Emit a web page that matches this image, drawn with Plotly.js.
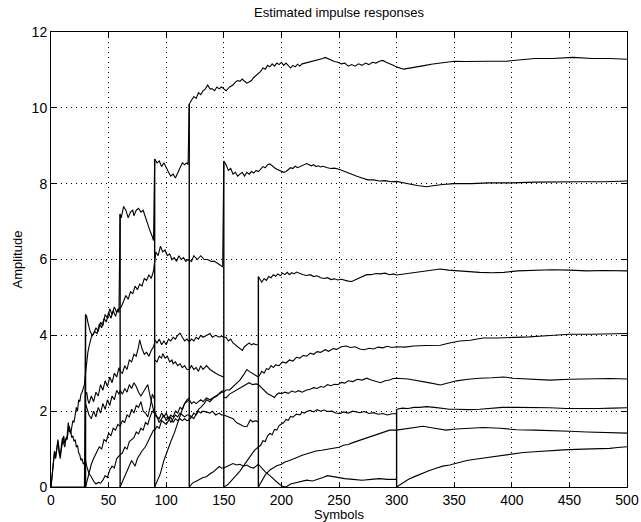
<!DOCTYPE html>
<html>
<head>
<meta charset="utf-8">
<script src="https://cdn.plot.ly/plotly-3.0.1.min.js"></script>
<style>html,body{margin:0;padding:0;background:#fff;}#chart{width:641px;height:522px;}</style>
</head>
<body>
<div id="chart"></div>
<script>
// ---- data: x = symbol index, y = amplitude ----
const xTicks = [0,50,100,150,200,250,300,350,400,450,500];
const yTicks = [0,2,4,6,8,10,12];
const jumpAt  = [30, 60, 90, 120, 150, 180, 300];
const jumpTop = [4.55, 7.2, 8.65, 10.1, 8.6, 5.55, 2.05];

const tapA = [[0,0],[29,0],[30,4.55],[31,4.5],[32,4.35],[34,4.1],[36,4.0],[38,4.1],[40,4.05],[42,4.3],[44,4.2],[46,4.45],[48,4.35],[50,4.6],[52,4.45],[54,4.65],[56,4.5],[58,4.7],[59,4.6],
 [60,7.2],[61,7.1],[63,7.4],[65,7.3],[67,7.1],[69,7.25],[71,7.3],[72,7.15],[74,7.3],[76,7.35],[78,7.25],[80,7.3],[82,7.1],[84,6.9],[86,6.75],[88,6.6],[89,6.5],
 [90,8.65],[92,8.55],[94,8.6],[96,8.45],[98,8.55],[100,8.4],[102,8.3],[104,8.2],[106,8.25],[108,8.15],[110,8.3],[112,8.4],[114,8.55],[116,8.5],[118,8.55],[119,8.5],
 [120,10.1],[122,10.2],[124,10.3],[126,10.25],[128,10.4],[130,10.35],[132,10.45],[134,10.5],[136,10.6],[138,10.5],[140,10.5],[142,10.45],[144,10.55],[146,10.5],[148,10.55],[150,10.5],[152,10.45],[155,10.55],[158,10.6],[160,10.68],[162,10.72],[164,10.7],[166,10.76],[168,10.7],[170,10.65],[172,10.68],[174,10.72],[176,10.8],[178,10.85],[180,10.9],[182,10.96],[184,11.05],[186,11.02],[188,11.12],[190,11.08],[192,11.16],[194,11.1],[196,11.18],[198,11.14],[200,11.2],[202,11.12],[204,11.18],[206,11.1],[208,11.05],[210,11.12],[212,11.08],[214,11.15],[216,11.1],[218,11.16],[221,11.18],[224,11.2],[227,11.24],[230,11.25],[233,11.28],[236,11.3],[238,11.33],[240,11.3],[243,11.26],[246,11.22],[249,11.2],[252,11.16],[255,11.18],[258,11.1],[261,11.14],[264,11.1],[267,11.16],[270,11.12],[273,11.18],[276,11.14],[279,11.2],[282,11.18],[285,11.23],[288,11.25],[291,11.2],[294,11.15],[297,11.12],[300,11.08],[303,11.05],[306,11.02],[310,11.04],[315,11.06],[320,11.1],[325,11.12],[330,11.15],[335,11.17],[340,11.2],[350,11.23],[360,11.22],[370,11.23],[380,11.23],[395,11.23],[410,11.28],[420,11.3],[435,11.3],[453,11.33],[470,11.3],[485,11.3],[500,11.28]];

const tapB = [[0,0],[1,0.3],[2,0.6],[3,0.95],[4,0.8],[5,1.05],[6,1.2],[7,0.9],[8,0.8],[9,1.1],[10,1.3],[11,1.15],[12,1.05],[13,1.3],[14,1.25],[15,1.5],[16,1.6],[17,1.4],[18,1.55],[19,1.75],[20,1.7],[21,1.9],[22,2.1],[23,2.0],[24,2.3],[25,2.25],[26,2.45],[27,2.5],[28,2.65],[29,2.7],
 [30,3.0],[31,3.3],[32,3.55],[33,3.7],[35,3.95],[37,4.05],[39,4.2],[41,4.1],[43,4.35],[45,4.25],[47,4.55],[49,4.45],[51,4.7],[53,4.55],[55,4.75],[57,4.6],[59,4.7],
 [61,4.75],[63,4.9],[65,5.05],[67,4.95],[69,5.15],[71,5.1],[73,5.3],[75,5.2],[77,5.35],[79,5.3],[81,5.5],[83,5.45],[85,5.6],[87,5.5],[89,5.7],
 [91,6.2],[93,6.1],[95,6.35],[97,6.2],[99,6.25],[101,6.1],[103,6.15],[105,6.0],[107,6.05],[109,5.95],[111,6.1],[113,6.0],[115,6.05],[117,5.95],[119,6.0],
 [122,5.95],[124,6.1],[127,6.0],[130,6.1],[133,6.0],[136,6.0],[139,5.95],[142,5.95],[145,5.9],[147,5.85],[149,5.8],
 [150,8.6],[152,8.5],[154,8.35],[156,8.4],[158,8.25],[160,8.3],[162,8.2],[164,8.25],[166,8.3],[168,8.2],[170,8.3],[172,8.25],[174,8.32],[176,8.28],[178,8.35],[180,8.32],[182,8.4],[184,8.45],[186,8.42],[188,8.5],[190,8.52],[192,8.46],[194,8.42],[196,8.38],[198,8.36],[200,8.33],[202,8.3],[204,8.32],[206,8.36],[208,8.42],[210,8.4],[212,8.46],[214,8.42],[216,8.45],[218,8.48],[220,8.5],[222,8.53],[224,8.5],[226,8.47],[228,8.5],[230,8.45],[232,8.47],[234,8.44],[236,8.46],[238,8.43],[240,8.42],[243,8.4],[246,8.41],[250,8.38],[253,8.34],[256,8.3],[259,8.27],[262,8.24],[265,8.2],[268,8.17],[271,8.14],[275,8.1],[280,8.1],[285,8.07],[290,8.08],[295,8.05],[300,8.06],[305,8.02],[310,8.0],[318,7.95],[326,7.92],[333,7.95],[340,7.98],[350,8.0],[365,8.0],[380,8.02],[400,8.02],[420,8.04],[440,8.05],[460,8.05],[480,8.05],[500,8.07]];

// segments between restarts
const seg0b = [[0,0],[1,0.35],[2,0.7],[3,0.9],[4,0.75],[5,1.1],[6,1.25],[7,1.0],[8,0.75],[9,1.0],[10,1.2],[11,1.35],[12,1.15],[13,1.25],[14,1.35],[15,1.7],[16,1.45],[17,1.5],[18,1.3],[19,1.35],[20,1.2],[21,1.25],[22,1.05],[23,1.1],[24,0.9],[25,0.85],[26,0.7],[27,0.75],[28,0.6],[29,0.65],[30,0.7]];
const seg1c = [[30,2.45],[31,2.5],[32,2.3],[33,2.2],[35,2.4],[37,2.25],[39,2.5],[41,2.4],[43,2.7],[45,2.55],[47,2.8],[49,2.65],[51,2.9],[53,2.75],[55,3.0],[57,2.9],[59,3.15],[60,3.05]];
const seg1d = [[30,2.2],[31,2.1],[33,1.9],[35,1.8],[37,2.0],[39,1.85],[41,2.1],[43,1.95],[45,2.2],[47,2.05],[49,2.3],[51,2.15],[53,2.4],[55,2.3],[57,2.55],[59,2.45],[60,2.55]];
const seg1e = [[30,0],[32,0.25],[34,0.5],[35,0.6],[37,0.75],[39,0.9],[41,1.0],[42,1.06],[44,1.0],[46,1.25],[48,1.2],[50,1.42],[52,1.35],[54,1.55],[56,1.5],[58,1.65],[60,1.6]];
const seg1f = [[30,0.7],[31,0.55],[33,0.35],[35,0.27],[37,0.15],[39,0.08],[41,0.12],[43,0.1],[45,0.18],[47,0.3],[49,0.25],[51,0.45],[53,0.55],[55,0.5],[57,0.75],[59,0.8],[60,0.85]];
const seg2c = [[60,3.05],[62,3.0],[64,3.2],[66,3.1],[68,3.35],[70,3.3],[72,3.5],[74,3.45],[76,3.7],[77,3.88],[79,3.65],[81,3.5],[83,3.55],[85,3.45],[87,3.6],[89,3.7],[90,3.8]];
const seg2d = [[60,2.55],[62,2.45],[64,2.6],[66,2.5],[68,2.7],[70,2.6],[72,2.75],[74,2.65],[76,2.5],[78,2.4],[80,2.5],[82,2.6],[84,2.7],[86,2.4],[88,2.1],[90,1.9]];
const seg2e = [[60,1.6],[62,1.75],[64,1.7],[66,1.9],[68,1.85],[70,2.05],[72,1.95],[74,2.15],[76,2.1],[78,2.25],[80,2.0],[82,1.95],[84,1.85],[86,2.1],[88,2.45],[90,2.3]];
const seg2f = [[60,0.85],[62,0.9],[64,1.05],[66,1.0],[68,1.2],[70,1.24],[72,1.3],[74,1.45],[76,1.4],[78,1.55],[80,1.5],[82,1.7],[84,1.65],[86,1.85],[88,2.0],[90,1.95]];
const seg2g = [[60,0],[62,0.15],[64,0.3],[66,0.45],[68,0.55],[70,0.7],[72,0.6],[73,0.55],[75,0.75],[77,0.85],[79,0.95],[82,1.06],[84,1.2],[86,1.3],[87,1.4],[89,1.5],[90,1.5]];
const seg3c = [[90,3.88],[92,3.8],[94,3.9],[96,3.75],[98,3.85],[100,3.75],[102,3.9],[104,3.85],[106,3.95],[108,3.9],[110,4.0],[112,4.06],[114,3.95],[116,3.85],[118,3.9],[120,3.83]];
const seg3d = [[90,3.35],[92,3.3],[94,3.45],[96,3.4],[97,3.52],[99,3.4],[101,3.45],[103,3.3],[105,3.35],[106,3.25],[108,3.3],[110,3.2],[112,3.25],[114,3.15],[116,3.2],[118,3.1],[120,3.1]];
const seg3e = [[90,1.9],[92,1.85],[94,1.8],[96,1.95],[98,1.85],[100,1.95],[102,1.8],[104,1.9],[106,1.85],[108,2.0],[110,1.95],[112,2.1],[114,2.05],[116,2.2],[118,2.25],[120,2.3]];
const seg3f = [[90,2.0],[92,1.85],[94,1.7],[96,1.8],[98,1.9],[100,1.75],[102,1.85],[104,1.7],[106,1.8],[108,1.9],[110,1.85],[112,1.95],[114,1.9],[116,1.85],[118,1.9],[120,1.9]];
const seg3g = [[90,1.5],[92,1.6],[94,1.55],[96,1.75],[98,1.7],[100,1.65],[102,1.75],[104,1.85],[106,1.7],[108,1.8],[110,1.75],[112,1.8],[114,1.75],[116,1.8],[118,1.75],[120,1.77]];
const seg3h = [[90,0],[92,0.15],[95,0.36],[98,0.7],[101,0.97],[104,1.2],[107,1.42],[110,1.7],[112,1.9],[114,2.05],[116,2.2],[118,2.3],[120,2.35]];
const seg4c = [[120,3.83],[122,3.9],[124,3.85],[126,3.95],[128,3.9],[130,4.0],[132,3.95],[135,4.0],[138,4.05],[140,3.95],[143,4.0],[146,3.95],[148,3.98],[150,3.95],[152,3.95],[154,3.85],[156,3.9],[158,3.8],[160,3.75],[162,3.7],[164,3.65],[166,3.6],[168,3.7],[170,3.75],[172,3.8],[174,3.75],[176,3.78],[178,3.75],[180,3.75]];
const seg4d = [[120,3.1],[122,3.2],[124,3.1],[126,3.15],[128,3.05],[130,3.2],[132,3.1],[135,3.2],[138,3.1],[140,3.05],[143,3.0],[146,2.95],[148,2.93],[150,2.9]];
const seg4e = [[120,2.3],[122,2.2],[124,2.25],[126,2.2],[128,2.25],[130,2.3],[132,2.25],[135,2.35],[138,2.3],[140,2.35],[143,2.4],[146,2.45],[148,2.5],[150,2.5]];
const seg4f = [[120,1.9],[122,1.85],[124,1.95],[126,1.9],[128,2.0],[130,1.95],[132,2.0],[135,1.98],[138,1.95],[140,2.0],[143,1.9],[146,1.95],[148,1.9],[150,1.9],[152,1.88],[155,1.85],[158,1.8],[161,1.7],[164,1.65],[167,1.6],[170,1.59],[172,1.7],[173,1.77],[175,1.72],[178,1.75],[180,1.7]];
const seg4g = [[120,1.77],[122,1.85],[124,1.8],[126,1.95],[128,2.05],[130,2.1],[133,2.2],[135,2.3],[138,2.25],[141,2.35],[144,2.4],[147,2.5],[150,2.55]];
const seg4h = [[120,0],[123,0.11],[126,0.15],[129,0.2],[132,0.25],[135,0.27],[138,0.35],[141,0.4],[144,0.5],[146,0.54],[148,0.5],[150,0.5],[153,0.55],[156,0.6],[158,0.62],[161,0.58],[164,0.6],[167,0.55],[170,0.58],[173,0.52],[176,0.5],[178,0.55],[180,0.6]];
const seg5d = [[150,2.5],[152,2.56],[155,2.56],[158,2.65],[161,2.75],[164,2.82],[167,2.95],[170,3.1],[172,3.05],[175,3.0],[177,2.95],[180,2.9]];
const seg5e = [[150,2.37],[152,2.35],[155,2.45],[158,2.5],[161,2.55],[164,2.6],[167,2.65],[170,2.7],[172,2.75],[175,2.7],[178,2.72],[180,2.7]];
const tapC = [[180,5.55],[181,5.5],[183,5.4],[185,5.5],[187,5.45],[189,5.55],[191,5.52],[193,5.6],[195,5.56],[197,5.62],[199,5.57],[201,5.64],[203,5.6],[205,5.66],[207,5.6],[209,5.65],[211,5.62],[213,5.67],[216,5.63],[219,5.6],[222,5.58],[225,5.6],[228,5.55],[231,5.57],[234,5.52],[237,5.5],[240,5.52],[243,5.47],[246,5.49],[249,5.46],[252,5.48],[255,5.45],[258,5.43],[261,5.42],[264,5.46],[268,5.52],[271,5.56],[274,5.6],[278,5.6],[282,5.63],[286,5.62],[290,5.64],[294,5.6],[297,5.62],[300,5.59],[307,5.62],[315,5.66],[322,5.7],[330,5.72],[338,5.75],[345,5.72],[352,5.7],[362,5.68],[372,5.66],[383,5.65],[393,5.66],[405,5.7],[420,5.72],[435,5.73],[450,5.72],[465,5.7],[480,5.71],[500,5.7]];
const tapD = [[180,2.9],[181,2.96],[183,3.05],[185,3.0],[187,3.12],[189,3.1],[191,3.2],[193,3.15],[195,3.22],[198,3.2],[201,3.3],[204,3.27],[207,3.35],[210,3.32],[213,3.42],[216,3.4],[219,3.47],[222,3.45],[225,3.53],[228,3.5],[231,3.57],[234,3.55],[238,3.62],[241,3.58],[245,3.65],[248,3.63],[252,3.7],[256,3.72],[260,3.68],[264,3.7],[268,3.64],[272,3.62],[276,3.66],[280,3.64],[284,3.69],[288,3.67],[292,3.71],[296,3.68],[300,3.7],[307,3.69],[315,3.72],[325,3.73],[338,3.74],[346,3.8],[355,3.85],[364,3.87],[375,3.93],[388,3.93],[401,3.94],[415,3.96],[430,3.99],[450,4.03],[470,4.03],[485,4.04],[500,4.05]];
const tapE = [[180,2.7],[182,2.64],[184,2.58],[186,2.5],[188,2.46],[190,2.43],[192,2.4],[194,2.36],[196,2.44],[198,2.48],[200,2.46],[203,2.5],[206,2.47],[209,2.53],[212,2.5],[215,2.54],[218,2.5],[222,2.56],[225,2.58],[228,2.62],[231,2.6],[234,2.65],[237,2.63],[240,2.7],[243,2.67],[246,2.71],[249,2.7],[252,2.76],[255,2.74],[258,2.8],[262,2.78],[266,2.84],[270,2.82],[274,2.87],[278,2.82],[282,2.78],[286,2.75],[290,2.8],[294,2.82],[297,2.86],[300,2.87],[310,2.85],[320,2.8],[330,2.74],[338,2.69],[345,2.75],[352,2.8],[362,2.84],[372,2.87],[383,2.88],[393,2.9],[401,2.87],[415,2.85],[433,2.82],[450,2.84],[470,2.86],[485,2.86],[500,2.85]];
const tapF = [[150,0],[153,0.05],[156,0.15],[160,0.28],[164,0.42],[167,0.55],[170,0.68],[172,0.8],[175,0.9],[177,0.98],[180,1.06],[182,1.1],[184,1.22],[186,1.2],[188,1.35],[190,1.41],[192,1.38],[194,1.52],[196,1.5],[198,1.62],[200,1.66],[202,1.7],[204,1.78],[206,1.76],[208,1.86],[210,1.84],[213,1.92],[216,1.9],[218,1.97],[220,1.95],[222,1.99],[225,2.02],[228,1.98],[231,2.04],[234,2.0],[237,2.03],[240,1.99],[244,2.0],[247,1.95],[251,1.94],[254,1.98],[258,1.95],[262,2.0],[265,1.98],[268,1.96],[272,1.99],[276,1.94],[280,1.96],[284,1.92],[288,1.94],[292,1.9],[296,1.93],[300,1.93]];
const tapG = [[180,0],[183,0.15],[186,0.32],[190,0.45],[193,0.5],[196,0.56],[200,0.6],[203,0.66],[207,0.7],[211,0.76],[215,0.8],[218,0.84],[222,0.88],[226,0.9],[230,0.95],[235,0.97],[240,1.0],[245,1.04],[250,1.05],[254,1.1],[258,1.12],[262,1.17],[265,1.2],[269,1.24],[272,1.28],[276,1.3],[280,1.35],[284,1.38],[287,1.42],[291,1.46],[294,1.5],[300,1.5],[305,1.52],[314,1.56],[323,1.6],[333,1.55],[343,1.5],[352,1.53],[361,1.55],[375,1.57],[390,1.55],[404,1.51],[420,1.5],[435,1.49],[450,1.47],[465,1.45],[480,1.43],[500,1.42]];
const tapH = [[180,0.6],[183,0.5],[186,0.4],[190,0.3],[194,0.18],[198,0.08],[201,0.02],[204,0.0],[208,0.08],[213,0.12],[218,0.15],[222,0.18],[227,0.16],[232,0.2],[236,0.25],[240,0.3],[245,0.27],[250,0.25],[255,0.22],[262,0.2],[270,0.18],[278,0.2],[285,0.22],[292,0.2],[300,0.2]];
const tapF2 = [[300,2.05],[305,2.08],[310,2.07],[315,2.1],[320,2.1],[326,2.12],[333,2.1],[340,2.07],[346,2.05],[352,2.05],[362,2.04],[372,2.05],[381,2.08],[392,2.1],[404,2.1],[418,2.1],[433,2.09],[447,2.07],[462,2.06],[475,2.07],[488,2.08],[500,2.09]];
const tapH2 = [[300,0],[305,0.1],[310,0.2],[316,0.28],[322,0.36],[328,0.43],[335,0.5],[340,0.55],[346,0.58],[353,0.64],[361,0.7],[368,0.73],[375,0.76],[383,0.8],[390,0.84],[401,0.89],[410,0.91],[420,0.93],[433,0.96],[445,0.98],[462,1.0],[475,1.0],[485,1.02],[492,1.04],[500,1.06]];

const curves = [tapA, tapB, seg0b, seg1c, seg1d, seg1e, seg1f, seg2c, seg2d, seg2e, seg2f, seg2g,
  seg3c, seg3d, seg3e, seg3f, seg3g, seg3h, seg4c, seg4d, seg4e, seg4f, seg4g, seg4h, seg5d, seg5e,
  tapC, tapD, tapE, tapF, tapG, tapH, tapF2, tapH2];

const traces = curves.map(c => ({
  x: c.map(p => p[0]), y: c.map(p => p[1]),
  type: 'scatter', mode: 'lines', line: {color: '#000', width: 1.1},
  hoverinfo: 'skip', showlegend: false
}));
// restart jumps (vertical strokes from 0 to the new top value)
jumpAt.forEach((t, i) => {
  traces.push({x: [t, t], y: [0, jumpTop[i]], type: 'scatter', mode: 'lines',
    line: {color: '#000', width: 1.4}, hoverinfo: 'skip', showlegend: false});
});

const fontFam = 'Liberation Sans, Arial, Helvetica, sans-serif';
const axisCommon = {
  ticks: 'inside', ticklen: 5, tickcolor: '#000', tickwidth: 1,
  showline: true, mirror: 'ticks', linecolor: '#000', linewidth: 1,
  showgrid: true, gridcolor: '#000', gridwidth: 1, griddash: '1px,4px',
  zeroline: false, tickfont: {family: fontFam, size: 14, color: '#000'},
  automargin: false, fixedrange: true
};
const layout = {
  width: 641, height: 522,
  margin: {l: 51, r: 14, t: 32, b: 35},
  paper_bgcolor: '#fff', plot_bgcolor: '#fff',
  title: {text: 'Estimated impulse responses', font: {family: fontFam, size: 13, color: '#000'},
    xref: 'paper', x: 0.5, xanchor: 'center', yref: 'container', y: 0.977, yanchor: 'middle'},
  xaxis: Object.assign({}, axisCommon, {range: [0, 500], tickvals: xTicks, ticktext: xTicks.map(String),
    title: {text: 'Symbols', font: {family: fontFam, size: 13, color: '#000'}, standoff: 0}}),
  yaxis: Object.assign({}, axisCommon, {range: [0, 12], tickvals: yTicks, ticktext: yTicks.map(String),
    title: {text: 'Amplitude', font: {family: fontFam, size: 13, color: '#000'}, standoff: 6}}),
  showlegend: false
};
Plotly.newPlot('chart', traces, layout, {displayModeBar: false, staticPlot: true});
</script>
</body>
</html>
